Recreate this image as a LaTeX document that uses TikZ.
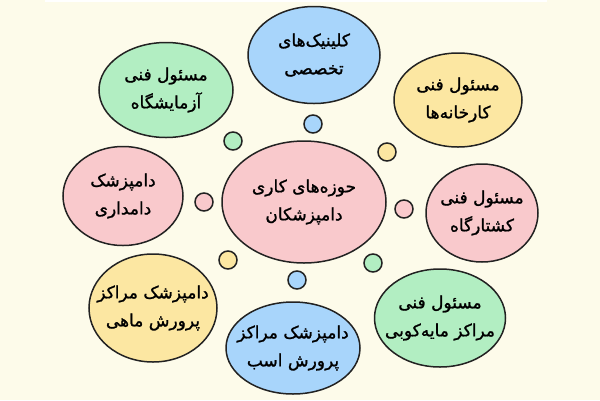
\documentclass[tikz,border=0pt]{standalone}
\usepackage{fontspec}
\usetikzlibrary{shapes.geometric}
\TeXXeTstate=1
\newfontfamily\arabicfont[Script=Arabic, FakeBold=1.2]{DejaVu Sans}
\definecolor{bgcream}{HTML}{FDFBEA}
\definecolor{outline}{HTML}{222222}
\definecolor{bubblepink}{HTML}{F9C9CC}
\definecolor{bubbleblue}{HTML}{A8D5FB}
\definecolor{bubblegreen}{HTML}{B2EEC2}
\definecolor{bubbleyellow}{HTML}{FCE7A2}

\begin{document}
\begin{tikzpicture}[x=1pt, y=-1pt,
            ellipsenode/.style={ellipse, draw=outline, line width=1.5pt, inner xsep=-14pt, inner ysep=-6pt, align=center, font=\arabicfont\fontsize{17}{28}\selectfont},
            pinkellipsenode/.style={ellipsenode, fill=bubblepink},
            blueellipsenode/.style={ellipsenode, fill=bubbleblue},
            greenellipsenode/.style={ellipsenode, fill=bubblegreen},
            yellowellipsenode/.style={ellipsenode, fill=bubbleyellow},
            dotnode/.style={circle, draw=outline, line width=1.5pt, minimum size=18pt, inner sep=0pt},
            ]
            \fill[bgcream] (0,0) rectangle (600,400);
            \fill[white] (45,0) rectangle (547,2);

            \node[pinkellipsenode, minimum width=164pt, minimum height=122pt] (hub) at (304,202)
                {\beginR حوزه‌های کاری\endR\\\beginR دامپزشکان\endR};

            \node[blueellipsenode, minimum width=132pt, minimum height=97pt] (clinic) at (314,55)
                {\beginR کلینیک‌های\endR\\\beginR تخصصی\endR};
            \node[greenellipsenode, minimum width=134pt, minimum height=95pt] (lab) at (166,90)
                {\beginR مسئول فنی\endR\\\beginR آزمایشگاه\endR};
            \node[yellowellipsenode, minimum width=128pt, minimum height=94pt] (factory) at (458,100)
                {\beginR مسئول فنی\endR\\\beginR کارخانه‌ها\endR};
            \node[pinkellipsenode, minimum width=120pt, minimum height=99pt] (farm) at (123,196)
                {\beginR دامپزشک\endR\\\beginR دامداری\endR};
            \node[pinkellipsenode, minimum width=112pt, minimum height=98pt] (slaughter) at (482,213)
                {\beginR مسئول فنی\endR\\\beginR کشتارگاه\endR};
            \node[yellowellipsenode, minimum width=128pt, minimum height=108pt] (fish) at (153,308)
                {\beginR دامپزشک مراکز\endR\\\beginR پرورش ماهی\endR};
            \node[blueellipsenode, minimum width=134pt, minimum height=92pt] (horse) at (293,348)
                {\beginR دامپزشک مراکز\endR\\\beginR پرورش اسب\endR};
            \node[greenellipsenode, minimum width=131pt, minimum height=98pt] (vaccine) at (440,318)
                {\beginR مسئول فنی\endR\\\beginR مراکز مایه‌کوبی\endR};

            \node[dotnode, fill=bubbleblue] (dotclinic) at (313,124) {};
            \node[dotnode, fill=bubblegreen] (dotlab) at (233,141) {};
            \node[dotnode, fill=bubbleyellow] (dotfactory) at (387,152) {};
            \node[dotnode, fill=bubblepink] (dotfarm) at (204,202) {};
            \node[dotnode, fill=bubblepink] (dotslaughter) at (404,209) {};
            \node[dotnode, fill=bubbleyellow] (dotfish) at (228,260) {};
            \node[dotnode, fill=bubbleblue] (dothorse) at (297,280) {};
            \node[dotnode, fill=bubblegreen] (dotvaccine) at (373,263) {};
        \end{tikzpicture}
\end{document}
